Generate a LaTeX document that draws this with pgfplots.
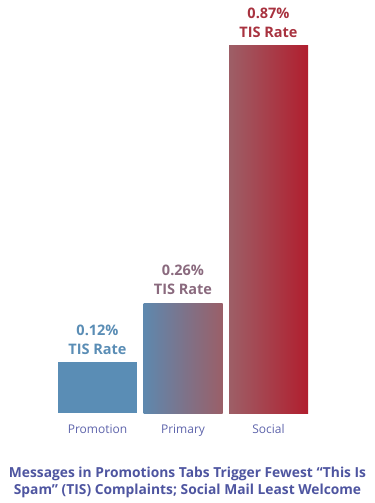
\documentclass[border=0pt]{standalone}
\usepackage{pgfplots}
\pgfplotsset{compat=1.18}
\usepackage{fontspec}
\setmainfont{Open Sans}
\definecolor{promo}{HTML}{5A8DB5}
\definecolor{primL}{HTML}{5E88AE}
\definecolor{primR}{HTML}{9A5F68}
\definecolor{socL}{HTML}{9D5F67}
\definecolor{socR}{HTML}{B11E2E}
\definecolor{lblPrim}{HTML}{8A6A7E}
\definecolor{lblSoc}{HTML}{A8323F}
\definecolor{cat}{HTML}{5E64AB}
\definecolor{ttl}{HTML}{4E55A0}
\begin{document}
\begin{tikzpicture}
\begin{axis}[
  at={(0,0)}, anchor=south west,
  scale only axis, width=342bp, height=413bp,
  xmin=-1, xmax=3, ymin=0, ymax=0.979,
  axis line style={draw=none},
  major tick length=0pt,
  ytick=\empty,
  xtick={0,1,2},
  xticklabels={Promotion,Primary,Social},
  xticklabel style={font=\fontsize{12bp}{14bp}\selectfont, text=cat, anchor=base, yshift=-20bp},
  ybar, bar width=79bp, bar shift=0pt,
  clip=false,
  nodes near coords align={vertical},
  every node near coord/.append style={align=center, inner sep=0pt, anchor=south, yshift=8bp,
     font=\fontsize{14.5bp}{19bp}\selectfont\bfseries},
]
\addplot[fill=promo, draw=none, nodes near coords={0.12\%\\TIS Rate},
  every node near coord/.append style={text=promo}] coordinates {(0,0.12)};
\addplot[left color=primL, right color=primR, draw=none, nodes near coords={0.26\%\\TIS Rate},
  every node near coord/.append style={text=lblPrim}] coordinates {(1,0.26)};
\addplot[left color=socL, right color=socR, draw=none, nodes near coords={0.87\%\\TIS Rate},
  every node near coord/.append style={text=lblSoc}] coordinates {(2,0.87)};
\end{axis}
\node[anchor=base, text=ttl, font=\fontsize{13.8bp}{16bp}\selectfont\bfseries] at (175.5bp,-64bp) {Messages in Promotions Tabs Trigger Fewest “This Is};
\node[anchor=base, text=ttl, font=\fontsize{13.8bp}{16bp}\selectfont\bfseries] at (175.5bp,-81bp) {Spam” (TIS) Complaints; Social Mail Least Welcome};
\pgfresetboundingbox
\path (-12bp,-90bp) rectangle (363bp,413bp);
\end{tikzpicture}
\end{document}
